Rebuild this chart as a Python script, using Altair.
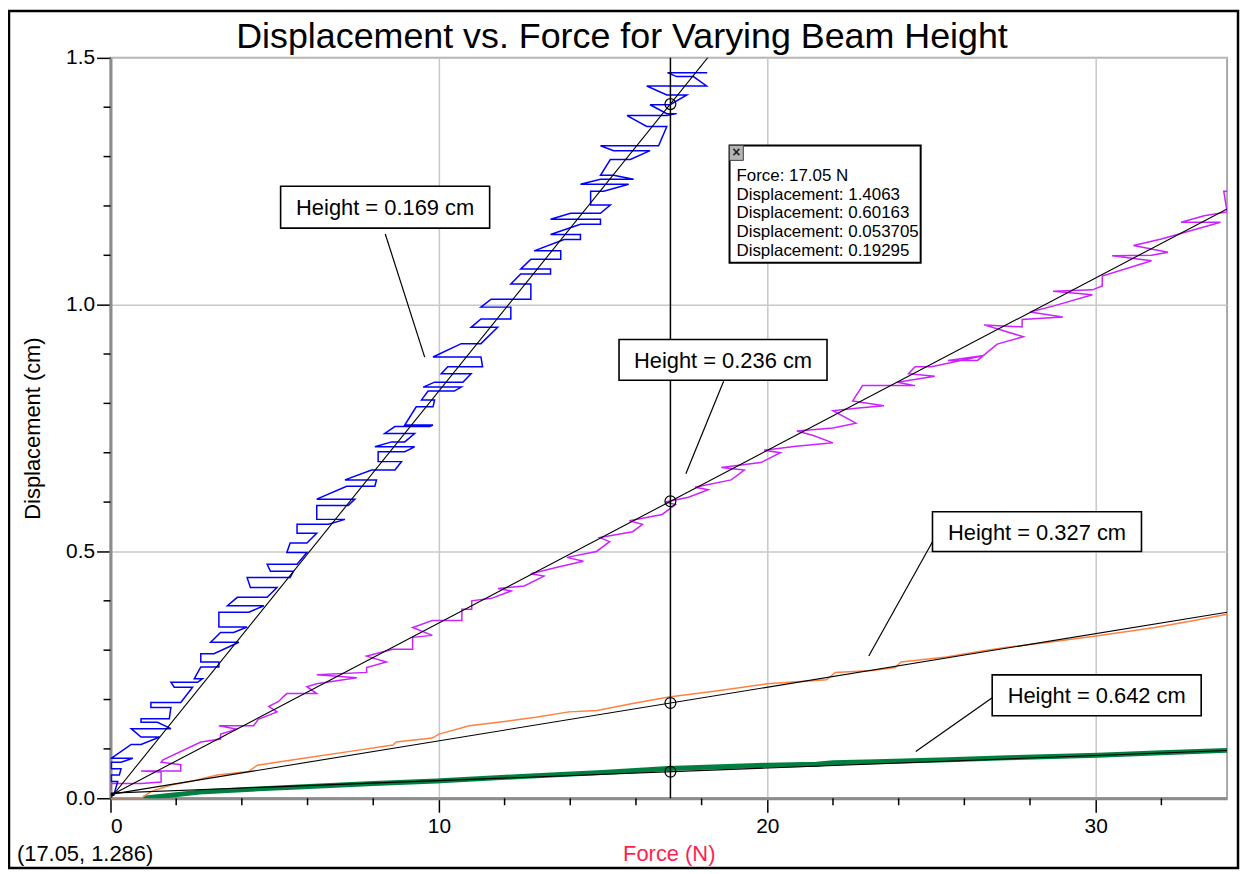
import altair as alt
import pandas as pd

FONT = "Liberation Sans"

# ---------------- data ----------------
# Height = 0.169 cm (blue) : measured rungs (y, left x, right x)
blue_y = [0.006,0.034,0.047,0.060,0.073,0.081,0.109,0.124,0.141,0.154,0.161,0.184,0.194,0.225,0.235,0.242,
          0.266,0.276,0.293,0.316,0.336,0.347,0.377,0.390,0.407,0.427,0.447,0.460,0.474,0.498,0.517,0.537,
          0.555,0.565,0.593,0.606,0.632,0.645,0.665,0.682,0.702,0.712,0.722,0.739,0.753,0.756,0.793,0.807,
          0.825,0.833,0.843,0.860,0.874,0.894,0.921,0.954,0.971,0.995,1.011,1.042,1.062,1.072,1.092,1.109,
          1.132,1.142,1.163,1.173,1.185,1.202,1.230,1.244,1.254,1.262,1.294,1.312,1.322,1.361,1.383,1.387,
          1.405,1.425,1.443,1.462,1.470]
blue_xl = [0.02,0.02,0.02,0.02,0.02,0.02,0.63,0.93,0.63,0.93,0.93,1.23,1.23,1.94,1.84,2.55,
           2.75,2.75,2.75,3.05,3.35,3.30,3.30,3.56,3.86,4.26,4.16,4.87,4.77,5.37,5.47,5.68,
           5.68,6.28,6.28,6.28,7.19,7.14,7.95,8.15,8.15,8.05,8.56,8.35,8.66,8.96,9.31,9.47,
           9.67,9.52,9.87,10.07,10.27,9.82,10.68,10.98,11.28,11.28,11.59,12.19,12.49,12.49,12.80,12.90,
           13.81,13.40,14.31,13.40,14.01,14.62,14.62,14.31,14.92,14.92,15.22,15.32,14.92,16.33,15.73,16.94,
           16.43,16.94,16.33,17.24,16.96]
blue_xr = [0.10,0.22,0.27,0.32,0.32,0.68,0.93,1.50,1.84,1.43,1.79,1.84,2.14,2.50,2.65,2.80,
           3.30,3.30,3.15,3.91,3.75,4.16,4.21,4.67,4.77,5.07,5.47,5.57,5.68,5.98,5.98,6.28,
           6.64,7.14,7.24,7.44,8.05,8.10,8.66,8.86,8.96,9.26,8.96,9.26,9.72,9.82,9.82,9.87,
           10.47,10.68,10.73,10.98,11.33,11.28,11.28,11.79,12.19,12.19,12.80,12.80,13.40,13.40,13.71,13.71,
           14.31,14.31,14.92,14.92,14.92,15.22,15.02,15.78,15.93,15.32,15.83,16.43,16.69,16.94,16.94,17.24,
           17.04,17.55,18.15,17.75,18.17]

# Height = 0.236 cm (magenta)
mag_x = [0.02,0.02,0.93,1.54,1.54,0.93,2.14,2.14,1.54,1.60,2.75,3.35,3.35,3.86,3.30,4.36,4.50,5.07,4.82,5.12,
         5.25,5.37,6.28,5.98,6.28,7.50,6.28,7.80,7.80,8.40,7.80,8.60,9.20,9.20,9.80,9.20,9.80,10.70,10.70,11.00,
         11.00,11.6,12.2,11.8,12.6,13.2,12.8,13.6,14.4,13.9,14.8,15.2,14.9,15.9,16.2,15.8,16.8,17.2,16.9,17.6,
         18.2,17.8,18.9,19.3,18.6,19.8,20.4,19.9,20.88,22.0,21.4,20.9,22.0,22.7,22.0,22.7,23.55,22.6,22.9,24.5,
         23.96,25.1,24.3,24.5,25.0,26.6,25.5,26.4,27.0,27.8,26.6,27.76,27.76,29.0,28.0,28.7,29.9,28.7,29.9,30.2,
         30.2,31.7,30.5,31.7,32.2,31.15,32.0,33.8,32.6,33.3,34.0,33.9,34.1]
mag_y = [0.017,0.030,0.030,0.033,0.053,0.055,0.055,0.068,0.073,0.078,0.114,0.120,0.130,0.140,0.147,0.147,0.160,0.175,0.186,0.196,
         0.205,0.212,0.212,0.226,0.232,0.244,0.250,0.255,0.265,0.276,0.288,0.302,0.302,0.326,0.330,0.346,0.360,0.360,0.383,0.383,
         0.400,0.405,0.420,0.425,0.430,0.450,0.455,0.468,0.480,0.488,0.500,0.520,0.528,0.540,0.555,0.562,0.575,0.595,0.600,0.610,
         0.625,0.630,0.645,0.665,0.670,0.680,0.700,0.705,0.713,0.720,0.735,0.744,0.750,0.760,0.785,0.790,0.795,0.805,0.836,0.836,
         0.843,0.855,0.860,0.874,0.874,0.897,0.887,0.887,0.920,0.935,0.959,0.955,0.970,0.975,0.985,0.997,1.020,1.027,1.030,1.038,
         1.058,1.089,1.099,1.100,1.106,1.120,1.133,1.167,1.167,1.180,1.188,1.230,1.230]

# Height = 0.327 cm (orange)
org_x = [0.0,0.93,1.23,1.84,2.5,3.25,4.2,4.47,5.88,7.5,8.6,8.7,9.8,10.0,10.93,11.94,12.95,13.96,14.82,15.9,
         17.0,18.5,20.0,21.8,22.07,23.2,23.9,24.07,25.45,26.5,27.3,28.57,30.07,31.8,33.0,34.0]
org_y = [0.0,0.0,0.0134,0.027,0.035,0.047,0.054,0.067,0.081,0.097,0.108,0.114,0.122,0.130,0.147,0.155,0.164,0.175,0.178,0.192,
         0.205,0.218,0.232,0.240,0.255,0.259,0.265,0.276,0.286,0.298,0.306,0.316,0.329,0.346,0.360,0.373]

# Height = 0.642 cm (green)
grn_x = [1.0,2.85,4.5,5.88,8.0,9.92,12.5,14.97,17.0,20.0,21.5,22.0,23.3,25.5,27.3,30.07,32.0,34.0]
grn_y = [0.0,0.0134,0.019,0.0235,0.030,0.035,0.044,0.052,0.0605,0.067,0.069,0.072,0.074,0.078,0.082,0.087,0.092,0.097]

# linear fits (values at x = 0 and x = 34)
fit_x = [0, 34]
fit_blue = [0.0, 2.805]
fit_mag = [0.0057, 1.194]
fit_org = [0.0078, 0.377]
fit_grn = [0.0104, 0.0968]

# cursor readout
cursor_x = 17.05
cursor_vals = [1.4063, 0.60163, 0.19295, 0.053705]
tip_lines = ["Force: 17.05 N", "Displacement: 1.4063", "Displacement: 0.60163",
             "Displacement: 0.053705", "Displacement: 0.19295"]
tip_y = [1.2500, 1.2127, 1.1754, 1.1371, 1.0988]

# annotation labels
ann_text = ["Height = 0.169 cm", "Height = 0.236 cm", "Height = 0.327 cm", "Height = 0.642 cm"]
ann_x1 = [5.18, 15.485, 25.03, 26.848]
ann_x2 = [11.545, 21.818, 31.394, 33.212]
ann_y1 = [1.155, 0.8468, 0.500, 0.1673]
ann_y2 = [1.240, 0.9294, 0.5806, 0.250]
lead_x1 = [8.367, 18.67, 25.12, 26.85]
lead_y1 = [1.1432, 0.8448, 0.5302, 0.2036]
lead_x2 = [9.567, 17.52, 23.09, 24.52]
lead_y2 = [0.8938, 0.6573, 0.2883, 0.0948]

x_major = [0, 10, 20, 30]
x_minor = [2, 4, 6, 8, 12, 14, 16, 18, 22, 24, 26, 28, 32]
y_major = [0.0, 0.5, 1.0, 1.5]
y_minor = [0.1, 0.2, 0.3, 0.4, 0.6, 0.7, 0.8, 0.9, 1.1, 1.2, 1.3, 1.4]

# ---------------- tables ----------------
bp = []
for k, (yv, xl, xr) in enumerate(zip(blue_y, blue_xl, blue_xr)):
    if k % 2 == 0:
        bp += [(xl, yv), (xr, yv)]
    else:
        bp += [(xr, yv), (xl, yv)]
blue_df = pd.DataFrame({"x": [p[0] for p in bp], "y": [p[1] for p in bp], "i": range(len(bp))})
n = min(len(mag_x), len(mag_y))
mag_df = pd.DataFrame({"x": mag_x[:n], "y": mag_y[:n], "i": range(n)})
org_df = pd.DataFrame({"x": org_x, "y": org_y, "i": range(len(org_x))})
grn_df = pd.DataFrame({"x": grn_x, "y": grn_y, "i": range(len(grn_x))})

xs = alt.Scale(domain=[0, 34], nice=False, zero=False)
ys = alt.Scale(domain=[0, 1.5], nice=False, zero=False)

x_axis = alt.Axis(values=x_major, format="d", title="Force (N)", grid=True, gridColor="#c8c8c8",
                  gridWidth=1.5, domainColor="#8c8c8c", domainWidth=3, tickColor="#000000",
                  tickSize=14, tickWidth=1.5, labelFont=FONT, labelFontSize=21, labelColor="#000000",
                  labelPadding=3, titleFont=FONT, titleFontSize=22, titleFontWeight="normal",
                  titleColor="#ff1f4f", titleX=561, titleY=63, titleAlign="center",
                  titleBaseline="alphabetic")
y_axis = alt.Axis(values=y_major, format=".1f", title="Displacement (cm)", grid=True,
                  gridColor="#c8c8c8", gridWidth=1.5, domainColor="#8c8c8c", domainWidth=3,
                  tickColor="#000000", tickSize=14, tickWidth=1.5, labelFont=FONT,
                  labelFontSize=21, labelColor="#000000", labelPadding=2, titleFont=FONT,
                  titleFontSize=22, titleFontWeight="normal", titleColor="#000000",
                  titleAngle=270, titleX=-78, titleY=372, titleAlign="center",
                  titleBaseline="middle")


def X(f):
    return alt.X(f, type="quantitative", scale=xs, axis=x_axis)


def Y(f):
    return alt.Y(f, type="quantitative", scale=ys, axis=y_axis)


def series(df, color, width):
    return alt.Chart(df).mark_line(color=color, strokeWidth=width, clip=True).encode(
        x=X("x"), y=Y("y"), order=alt.Order("i:Q"))


fits = pd.DataFrame({"x": fit_x * 4, "y": fit_blue + fit_mag + fit_org + fit_grn,
                     "s": ["b", "b", "m", "m", "o", "o", "g", "g"]})

layers = []
# minor ticks
layers.append(alt.Chart(pd.DataFrame({"v": x_minor})).mark_rule(color="black", strokeWidth=1.5).encode(
    x=X("v"), y=alt.value(744), y2=alt.value(751)))
layers.append(alt.Chart(pd.DataFrame({"v": y_minor})).mark_rule(color="black", strokeWidth=1.5).encode(
    y=Y("v"), x=alt.value(-7), x2=alt.value(0)))

layers.append(series(grn_df, "#008040", 5))
layers.append(series(org_df, "#ff8040", 1.5))
layers.append(series(mag_df, "#cc22ff", 1.5))
layers.append(series(blue_df, "#0000ff", 1.5))

layers.append(alt.Chart(fits).mark_line(color="black", strokeWidth=1.1, clip=True).encode(
    x=X("x"), y=Y("y"), detail="s:N"))

# cursor
layers.append(alt.Chart(pd.DataFrame({"x": [cursor_x]})).mark_rule(color="black", strokeWidth=1.5).encode(
    x=X("x")))
layers.append(alt.Chart(pd.DataFrame({"x": [cursor_x] * 4, "y": cursor_vals})).mark_point(
    shape="circle", size=120, filled=False, color="black", strokeWidth=1.2, opacity=1).encode(
    x=X("x"), y=Y("y")))

# annotations
ann = pd.DataFrame({"t": ann_text, "x1": ann_x1, "x2": ann_x2, "y1": ann_y1, "y2": ann_y2,
                    "cx": [(a + b) / 2 for a, b in zip(ann_x1, ann_x2)],
                    "cy": [(a + b) / 2 for a, b in zip(ann_y1, ann_y2)],
                    "lx1": lead_x1, "ly1": lead_y1, "lx2": lead_x2, "ly2": lead_y2})
layers.append(alt.Chart(ann).mark_rule(color="black", strokeWidth=1.2).encode(
    x=X("lx1"), y=Y("ly1"), x2=alt.X2("lx2"), y2=alt.Y2("ly2")))
layers.append(alt.Chart(ann).mark_rect(fill="white", stroke="black", strokeWidth=1.6).encode(
    x=X("x1"), x2=alt.X2("x2"), y=Y("y1"), y2=alt.Y2("y2")))
layers.append(alt.Chart(ann).mark_text(font=FONT, fontSize=22, color="black", align="center",
                                       baseline="middle", dy=1).encode(
    x=X("cx"), y=Y("cy"), text="t:N"))

# tooltip box
tip_box = pd.DataFrame({"x1": [18.85], "x2": [24.67], "y1": [1.0847], "y2": [1.3226]})
layers.append(alt.Chart(tip_box).mark_rect(fill="white", stroke="black", strokeWidth=2).encode(
    x=X("x1"), x2=alt.X2("x2"), y=Y("y1"), y2=alt.Y2("y2")))
close_box = pd.DataFrame({"x1": [18.85], "x2": [19.27], "y1": [1.2923], "y2": [1.3226],
                          "cx": [19.06], "cy": [1.3075], "t": ["×"]})
layers.append(alt.Chart(close_box).mark_rect(fill="#b4b4b4", stroke="#404040", strokeWidth=1).encode(
    x=X("x1"), x2=alt.X2("x2"), y=Y("y1"), y2=alt.Y2("y2")))
layers.append(alt.Chart(close_box).mark_text(font=FONT, fontSize=14, fontWeight="bold", color="#222222",
                                             align="center", baseline="middle").encode(
    x=X("cx"), y=Y("cy"), text="t:N"))
tips = pd.DataFrame({"t": tip_lines, "x": [19.06] * len(tip_lines), "y": tip_y})
layers.append(alt.Chart(tips).mark_text(font=FONT, fontSize=17, color="#000000", align="left",
                                        baseline="alphabetic").encode(
    x=X("x"), y=Y("y"), text="t:N"))

# title, readout and outer frame
one = pd.DataFrame({"t": ["Displacement vs. Force for Varying Beam Height"]})
layers.append(alt.Chart(one).mark_text(font=FONT, fontSize=36, color="black", align="center",
                                       baseline="alphabetic").encode(
    x=alt.value(514), y=alt.value(-10), text="t:N"))
coord = pd.DataFrame({"t": ["(17.05, 1.286)"]})
layers.append(alt.Chart(coord).mark_text(font=FONT, fontSize=22, color="black", align="left",
                                         baseline="alphabetic").encode(
    x=alt.value(-94), y=alt.value(807), text="t:N"))
layers.append(alt.Chart(pd.DataFrame({"a": [0]})).mark_rect(filled=False, stroke="black",
                                                            strokeWidth=2.5).encode(
    x=alt.value(-102), x2=alt.value(1133), y=alt.value(-47), y2=alt.value(814)))

chart = alt.layer(*layers).properties(
    width=1122, height=744,
    autosize=alt.AutoSizeParams(type="none"),
    padding={"left": 103, "top": 48, "right": 13, "bottom": 72},
    background="white",
).configure_view(stroke="#a8a8a8", strokeWidth=2)

chart.save("out.html", embed_options={"renderer": "svg", "actions": False})
